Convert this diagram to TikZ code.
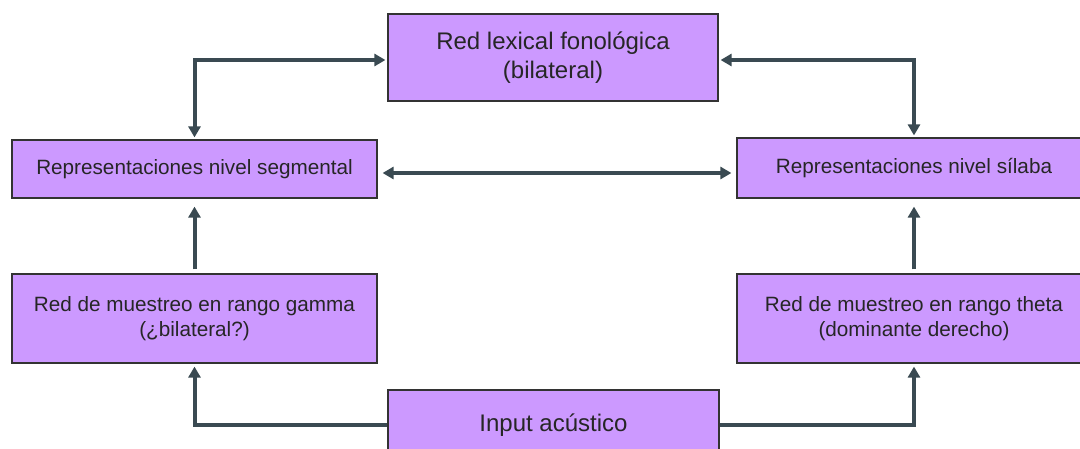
\documentclass[tikz,border=0pt]{standalone}
\usepackage{fontspec}
\setmainfont{Liberation Sans}
\usetikzlibrary{arrows.meta}
\definecolor{boxfill}{HTML}{CC99FF}
\definecolor{arrowc}{HTML}{3A4A52}
\definecolor{boxline}{HTML}{333333}
\begin{document}
\begin{tikzpicture}[x=1pt,y=-1pt,
  box/.style={draw=boxline, line width=1.2pt, fill=boxfill, inner sep=0pt, align=center, text=black!85},
  bigtext/.style={font=\fontsize{24}{29}\selectfont},
  smalltext/.style={font=\fontsize{20.7}{25}\selectfont},
  conn/.style={draw=arrowc, line width=4pt},
  one/.style={conn, -{Triangle[length=11pt,width=12pt]}},
  both/.style={conn, {Triangle[length=11pt,width=12pt]}-{Triangle[length=11pt,width=12pt]}}]
\clip (0,0) rectangle (1080,448);
\fill[white] (0,0) rectangle (1080,448);
% boxes
\node[box, bigtext, minimum width=330pt, minimum height=87pt] (lex) at (553,57.5) {Red lexical fonológica\\(bilateral)};
\node[box, smalltext, minimum width=365pt, minimum height=58pt] (seg) at (194.5,169) {Representaciones nivel segmental};
\node[box, smalltext, minimum width=354pt, minimum height=60pt] (syl) at (914,168) {Representaciones nivel sílaba};
\node[box, smalltext, minimum width=365pt, minimum height=89pt] (gam) at (194.5,318.5) {Red de muestreo en rango gamma\\(¿bilateral?)};
\node[box, smalltext, minimum width=354pt, minimum height=89pt] (the) at (914,318.5) {Red de muestreo en rango theta\\(dominante derecho)};
\node[box, bigtext, minimum width=331pt, minimum height=70pt] (inp) at (553.5,425) {Input acústico};
% connectors
\draw[both, shorten <=2pt, shorten >=2pt] ([yshift=-2.5pt]lex.west) -| (seg.north);
\draw[both, shorten <=2pt, shorten >=2pt] ([yshift=-2.5pt]lex.east) -| (syl.north);
\draw[both, shorten <=5pt, shorten >=5pt] ([yshift=-4pt]seg.east) -- ([yshift=-4pt]seg.east -| syl.west);
\draw[one, shorten <=4pt, shorten >=8pt] (gam.north) -- (seg.south);
\draw[one, shorten <=4pt, shorten >=8pt] (the.north) -- (syl.south);
\draw[one, shorten >=3pt] (inp.west) -| (gam.south);
\draw[one, shorten >=3pt] (inp.east) -| (the.south);
\end{tikzpicture}
\end{document}
